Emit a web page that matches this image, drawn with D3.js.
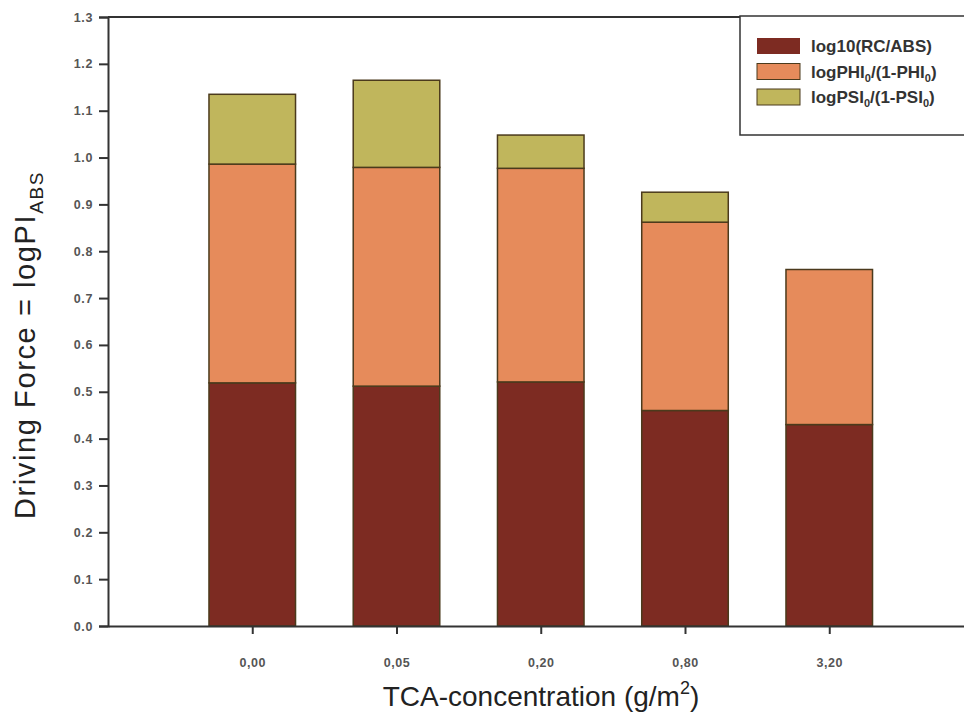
<!DOCTYPE html>
<html>
<head>
<meta charset="utf-8">
<script src="https://cdn.jsdelivr.net/npm/d3@7"></script>
<style>
  body { margin: 0; background: #fff; }
  svg { display: block; font-family: Arial, "Liberation Sans", sans-serif; }
</style>
</head>
<body>
<div id="chart"></div>
<script>
// data
var categories = ["0,00", "0,05", "0,20", "0,80", "3,20"]
var rcAbs = [0.519, 0.512, 0.521, 0.460, 0.430]
var phi = [0.467, 0.467, 0.456, 0.402, 0.331]
var psi = [0.149, 0.186, 0.071, 0.064, 0.0]
var yTicks = [0, 0.1, 0.2, 0.3, 0.4, 0.5, 0.6, 0.7, 0.8, 0.9, 1.0, 1.1, 1.2, 1.3]

var seriesNames = ["rc", "phi", "psi"]
var colours = { rc: "#7d2b22", phi: "#e68b5b", psi: "#c0b65c" }

var w = 964, h = 717

var svg = d3.select("#chart")
	.append("svg")
	.attr("width", w)
	.attr("height", h)

// x is a numeric axis 0..6 with bars at 1..5 (plot runs past the right edge)
var x = d3.scaleLinear().domain([0, 6]).range([108, 973.5])
var y = d3.scaleLinear().domain([0, 1.3]).range([626, 17])
var barW = x(0.6) - x(0)

var rows = categories.map(function(c, i) {
	return { cat: c, pos: i + 1, rc: rcAbs[i], phi: phi[i], psi: psi[i] }
})

var stack = d3.stack().keys(seriesNames)(rows)

var barG = svg.append("g")
stack.forEach(function(layer) {
	barG.selectAll(".bar-" + layer.key)
		.data(layer.filter(function(d) { return d[1] - d[0] > 0 }))
		.enter()
		.append("rect")
		.attr("x", function(d) { return x(d.data.pos) - barW / 2 })
		.attr("width", barW)
		.attr("y", function(d) { return y(d[1]) })
		.attr("height", function(d) { return y(d[0]) - y(d[1]) })
		.style("fill", colours[layer.key])
		.style("stroke", "#4b3a1c")
		.style("stroke-width", 1.5)
})

// frame top line
svg.append("line")
	.attr("x1", 108).attr("x2", w)
	.attr("y1", y(1.3)).attr("y2", y(1.3))
	.style("stroke", "#333").style("stroke-width", 2)

// y axis
var yAxis = svg.append("g")
	.attr("transform", "translate(108,0)")
	.call(d3.axisLeft(y).tickValues(yTicks).tickFormat(d3.format(".1f")).tickSize(9).tickPadding(6))
yAxis.select(".domain").style("stroke", "#333").style("stroke-width", 2)
yAxis.selectAll(".tick line").style("stroke", "#333").style("stroke-width", 2)
yAxis.selectAll("text").style("font-size", "12.5px").style("font-weight", "bold")
	.style("letter-spacing", "0.6px").style("fill", "#555")

// x axis
var xAxis = svg.append("g")
	.attr("transform", "translate(0,626)")
	.call(d3.axisBottom(x).tickValues([1, 2, 3, 4, 5])
		.tickFormat(function(d) { return categories[d - 1] })
		.tickSize(8).tickPadding(24).tickSizeOuter(0))
xAxis.select(".domain").style("stroke", "#333").style("stroke-width", 2)
xAxis.selectAll(".tick line").style("stroke", "#333").style("stroke-width", 2)
xAxis.selectAll("text").style("font-size", "12.5px").style("font-weight", "bold")
	.style("letter-spacing", "0.6px").style("fill", "#555")

// axis titles
var xt = svg.append("text")
	.attr("x", 541).attr("y", 706)
	.attr("text-anchor", "middle")
	.style("font-size", "28px").style("fill", "#222")
xt.append("tspan").text("TCA-concentration (g/m")
xt.append("tspan").attr("dy", -12).style("font-size", "18px").text("2")
xt.append("tspan").attr("dy", 12).text(")")

var yt = svg.append("text")
	.attr("transform", "translate(35,345) rotate(-90)")
	.attr("text-anchor", "middle")
	.style("font-size", "29px").style("fill", "#222")
	.style("letter-spacing", "1.6px")
yt.append("tspan").text("Driving Force = logPI")
yt.append("tspan").attr("dy", 8).style("font-size", "19px").text("ABS")

// legend
var legend = svg.append("g")
legend.append("rect")
	.attr("x", 740).attr("y", 16).attr("width", 240).attr("height", 119)
	.style("fill", "#fff").style("stroke", "#333").style("stroke-width", 1.5)

var legendItems = [
	{ key: "rc", label: [["log10(RC/ABS)", 0]] },
	{ key: "phi", label: [["logPHI", 0], ["0", 1], ["/(1-PHI", 0], ["0", 1], [")", 0]] },
	{ key: "psi", label: [["logPSI", 0], ["0", 1], ["/(1-PSI", 0], ["0", 1], [")", 0]] }
]

legendItems.forEach(function(item, i) {
	var cy = 46 + i * 25.5
	legend.append("rect")
		.attr("x", 757).attr("y", cy - 8).attr("width", 43).attr("height", 16)
		.style("fill", colours[item.key])
		.style("stroke", item.key == "rc" ? "none" : "#4b3a1c")
		.style("stroke-width", 1)
	var t = legend.append("text")
		.attr("x", 811).attr("y", cy + 6)
		.style("font-size", "17px").style("font-weight", "bold").style("fill", "#333")
	var sub = false
	item.label.forEach(function(p) {
		var sp = t.append("tspan").text(p[0])
		if (p[1] && !sub) { sp.attr("dy", 4).style("font-size", "11px"); sub = true }
		else if (!p[1] && sub) { sp.attr("dy", -4); sub = false }
	})
})
</script>
</body>
</html>
